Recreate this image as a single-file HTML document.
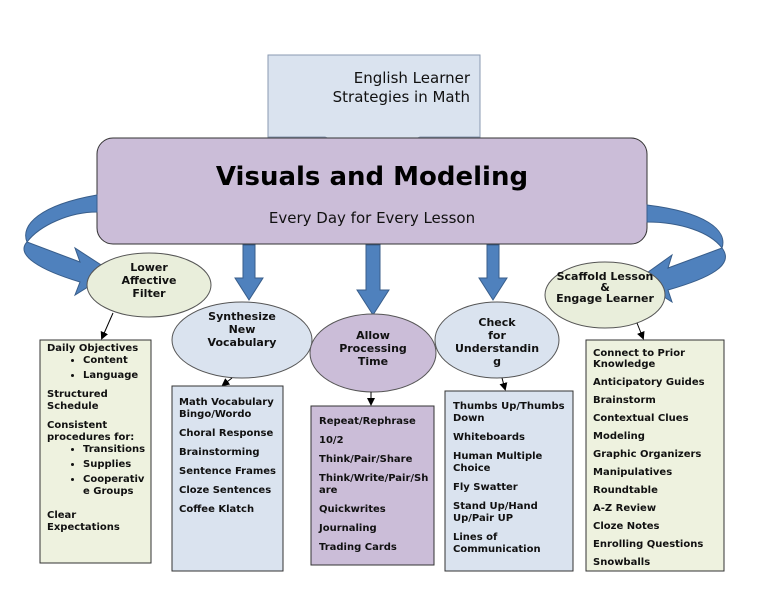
<!DOCTYPE html>
<html><head><meta charset="utf-8"><style>
body{margin:0;background:#fff;width:768px;height:594px;position:relative;overflow:hidden;font-family:"DejaVu Sans","Liberation Sans",sans-serif}
.t{position:absolute;font-weight:bold;font-size:10px;line-height:12px;color:#111}
.t p{margin:0 0 7px 0}
.c{text-align:center}
ul{margin:0 0 7px 0;padding-left:38px}
li{margin:0 0 3px 0}
</style></head><body>
<svg width="768" height="594" style="position:absolute;left:0;top:0">
<defs><marker id="a" markerWidth="8" markerHeight="8" refX="6" refY="4" orient="auto"><path d="M0,0 L8,4 L0,8 z" fill="#000"/></marker></defs>
<polygon points="268,55 480,55 480,137 420,137 373,158 325,137 268,137" fill="#dae3ef" stroke="#8a9ab0" stroke-width="1"/>
<rect x="97" y="138" width="550" height="106" rx="16" fill="#cbbdd8" stroke="#333" stroke-width="1"/>
<!-- left curved arrow -->
<path d="M97,195 C40,205 20,225 27,242 L80,262 L75,248 L112,272 L75,295 L80,282 C40,270 15,255 27,242 C40,225 70,212 97,212 z" fill="#4f81bd" stroke="#385d8a" stroke-width="1"/>
<!-- right curved arrow -->
<path d="M647,205 C705,212 728,230 722,248 L668,268 L672,255 L637,280 L672,302 L668,290 C710,278 735,265 722,248 C710,232 680,222 647,222 z" fill="#4f81bd" stroke="#385d8a" stroke-width="1"/>
<!-- down arrows -->
<polygon points="243,245 255,245 255,278 263,278 249,300 235,278 243,278" fill="#4f81bd" stroke="#385d8a"/>
<polygon points="366,245 380,245 380,290 389,290 373,315 357,290 366,290" fill="#4f81bd" stroke="#385d8a"/>
<polygon points="487,245 499,245 499,278 507,278 493,300 479,278 487,278" fill="#4f81bd" stroke="#385d8a"/>
<ellipse cx="149" cy="285" rx="62" ry="32" fill="#e9eedb" stroke="#555"/>
<ellipse cx="242" cy="340" rx="70" ry="38" fill="#dae3ef" stroke="#555"/>
<ellipse cx="373" cy="353" rx="63" ry="39" fill="#cbbdd8" stroke="#555"/>
<ellipse cx="497" cy="340" rx="62" ry="38" fill="#dae3ef" stroke="#555"/>
<ellipse cx="605" cy="295" rx="60" ry="33" fill="#e9eedb" stroke="#555"/>
<line x1="113" y1="313" x2="102" y2="338" stroke="#000" marker-end="url(#a)"/>
<line x1="232" y1="378" x2="223" y2="385" stroke="#000" marker-end="url(#a)"/>
<line x1="371" y1="392" x2="371" y2="404" stroke="#000" marker-end="url(#a)"/>
<line x1="502" y1="378" x2="505" y2="389" stroke="#000" marker-end="url(#a)"/>
<line x1="637" y1="323" x2="643" y2="338" stroke="#000" marker-end="url(#a)"/>
<rect x="40" y="340" width="111" height="223" fill="#eef2df" stroke="#333"/>
<rect x="172" y="386" width="111" height="185" fill="#dae3ef" stroke="#333"/>
<rect x="311" y="406" width="123" height="159" fill="#cbbdd8" stroke="#333"/>
<rect x="445" y="391" width="128" height="180" fill="#dae3ef" stroke="#333"/>
<rect x="586" y="340" width="138" height="231" fill="#eef2df" stroke="#333"/>
</svg>
<div style="position:absolute;left:290px;top:69px;width:180px;text-align:right;font-size:15px;line-height:19px;color:#111">English Learner<br>Strategies in Math</div>
<div style="position:absolute;left:97px;top:162px;width:550px;text-align:center;font-weight:bold;font-size:26px;color:#000">Visuals and Modeling</div>
<div style="position:absolute;left:97px;top:209px;width:550px;text-align:center;font-size:15px;color:#111">Every Day for Every Lesson</div>
<div class="t c" style="left:100px;top:261px;width:98px;font-size:11px;line-height:13px">Lower<br>Affective<br>Filter</div>
<div class="t c" style="left:175px;top:310px;width:134px;font-size:11px;line-height:13px">Synthesize<br>New<br>Vocabulary</div>
<div class="t c" style="left:313px;top:329px;width:120px;font-size:11px;line-height:13px">Allow<br>Processing<br>Time</div>
<div class="t c" style="left:437px;top:316px;width:120px;font-size:11px;line-height:13px">Check<br>for<br>Understandin<br>g</div>
<div class="t c" style="left:540px;top:271px;width:130px;font-size:11px;line-height:11px">Scaffold Lesson<br>&amp;<br>Engage Learner</div>
<div class="t" style="left:47px;top:343px;width:104px">Daily Objectives<ul style="padding-left:36px"><li>Content</li><li>Language</li></ul><p>Structured<br>Schedule</p><p style="margin:0">Consistent<br>procedures for:</p><ul style="padding-left:36px"><li>Transitions</li><li>Supplies</li><li>Cooperativ<br>e Groups</li></ul><p style="margin-top:12px">Clear<br>Expectations</p></div>
<div class="t" style="left:179px;top:397px;width:104px"><p>Math Vocabulary<br>Bingo/Wordo</p><p>Choral Response</p><p>Brainstorming</p><p>Sentence Frames</p><p>Cloze Sentences</p><p>Coffee Klatch</p></div>
<div class="t" style="left:319px;top:416px;width:114px"><p>Repeat/Rephrase</p><p>10/2</p><p>Think/Pair/Share</p><p>Think/Write/Pair/Sh<br>are</p><p>Quickwrites</p><p>Journaling</p><p>Trading Cards</p></div>
<div class="t" style="left:453px;top:401px;width:118px"><p>Thumbs Up/Thumbs<br>Down</p><p>Whiteboards</p><p>Human Multiple<br>Choice</p><p>Fly Swatter</p><p>Stand Up/Hand<br>Up/Pair UP</p><p>Lines of<br>Communication</p></div>
<div class="t" style="left:593px;top:348px;width:130px;line-height:11px"><p>Connect to Prior<br>Knowledge</p><p>Anticipatory Guides</p><p>Brainstorm</p><p>Contextual Clues</p><p>Modeling</p><p>Graphic Organizers</p><p>Manipulatives</p><p>Roundtable</p><p>A-Z Review</p><p>Cloze Notes</p><p>Enrolling Questions</p><p>Snowballs</p></div>
</body></html>
